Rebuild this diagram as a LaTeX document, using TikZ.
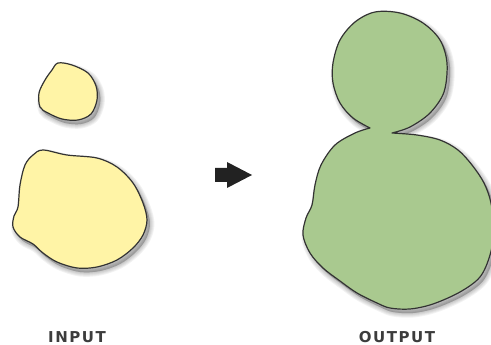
\documentclass[tikz,border=0pt]{standalone}
\usepackage{fontspec}
\newfontfamily\lblfont[LetterSpace=10]{DejaVu Sans}
\definecolor{yellowfill}{HTML}{FFF4A6}
\definecolor{greenfill}{HTML}{A9C98F}
\definecolor{outline}{HTML}{333333}
\definecolor{labelgray}{HTML}{3C3C3C}
\definecolor{arrowgray}{HTML}{222222}
\tikzset{
  blob/.style={draw=outline, line width=1.2pt, line join=round},
  lbl/.style={text=labelgray, font=\lblfont\bfseries\fontsize{15}{18}\selectfont, inner sep=0pt},
}
\newcommand\softshadow[1]{%
  \begin{scope}[shift={(3,4)}]
    \foreach \w in {9,7,5,3,1}{%
      \fill[black, opacity=0.05] #1;
      \draw[black, opacity=0.05, line width=\w, line join=round] #1;
    }
  \end{scope}}
\def\smallblob{plot[smooth cycle, tension=0.55] coordinates{(58,63) (72,65) (88,73) (96,86) (97,100) (91,114) (78,120) (62,119) (48,113) (40,107) (39,93) (45,80) (52,70)}}
\def\bigblob{plot[smooth cycle, tension=0.55] coordinates{(43,150) (67,155) (97,158) (117,167) (133,183) (143,203) (147,220) (143,235) (133,248) (117,260) (97,267) (77,268) (57,262) (43,253) (33,244) (20,237) (13,227) (14,216) (18,207) (20,185) (25,165) (33,155)}}
\def\greenblob{plot[smooth, tension=0.55] coordinates{(370,128) (353,118) (340,103) (333,83) (333,63) (340,40) (355,22) (375,12) (400,13) (423,23) (440,40) (447,63) (444,92) (430,113) (410,127) (392,133)} -- plot[smooth, tension=0.55] coordinates{(392,133) (417,135) (440,140) (458,150) (472,165) (484,183) (491,203) (494,230) (490,255) (480,277) (460,292) (433,304) (410,309) (390,308) (377,303) (357,293) (340,281) (323,268) (310,253) (303,235) (306,218) (312,205) (315,185) (321,165) (335,145) (355,133) (370,128)} -- cycle}
\begin{document}
\begin{tikzpicture}[x=1pt,y=-1pt]
\useasboundingbox (0,0) rectangle (491,345);
\clip (0,0) rectangle (491,345);
% input blobs
\softshadow{\smallblob}
\path[blob, fill=yellowfill] \smallblob;
\softshadow{\bigblob}
\path[blob, fill=yellowfill] \bigblob;
% output blob
\softshadow{\greenblob}
\path[blob, fill=greenfill] \greenblob;
% arrow
\fill[arrowgray] (215,168) -- (227,168) -- (227,162) -- (252,175) -- (227,188) -- (227,182) -- (215,182) -- cycle;
% labels
\node[lbl] (input) at (77,337) {INPUT};
\node[lbl] (output) at (397,337) {OUTPUT};
\end{tikzpicture}
\end{document}
